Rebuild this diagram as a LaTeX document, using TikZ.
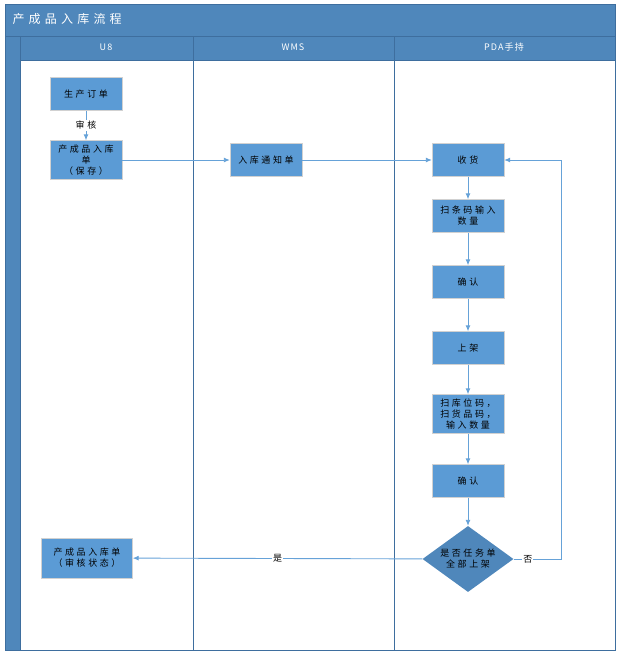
\documentclass[tikz,border=0pt]{standalone}
\usepackage{fontspec}
\setmainfont{Noto Sans CJK SC}[LetterSpace=28]
\usetikzlibrary{arrows.meta,shapes.geometric}
\definecolor{poolblue}{HTML}{4F87BB}
\definecolor{edgeblue}{HTML}{3E6E9E}
\definecolor{boxblue}{HTML}{5B9BD5}
\definecolor{linkblue}{HTML}{66A2D8}
\newcommand{\lanefont}{\fontsize{9}{11}\selectfont} % Box text.

\begin{document}
\begin{tikzpicture}[x=1pt,y=-1pt,
  box/.style={draw=black!18, fill=boxblue, minimum width=72pt, minimum height=33pt,
    inner sep=2pt, align=center, font=\lanefont},
  decision/.style={diamond, fill=poolblue, minimum width=91pt, minimum height=66pt,
    aspect=1.38, inner sep=0pt, align=center, font=\lanefont},
  link/.style={draw=linkblue, line width=0.9pt, -{Latex[length=6pt,width=5pt]}},
  tag/.style={fill=white, inner sep=1pt, font=\lanefont},
  head/.style={text=white, font=\lanefont\addfontfeatures{LetterSpace=12}}]
\useasboundingbox (0,0) rectangle (622,656);
\fill[poolblue] (5,4) rectangle (615,60);
\fill[poolblue] (5,4) rectangle (20,650);
\draw[edgeblue, line width=0.8pt] (5,4) rectangle (615,650);
\draw[edgeblue, line width=0.8pt] (5,36) -- (615,36);
\draw[edgeblue, line width=0.8pt] (20,60) -- (615,60);
\foreach \x in {20,193,394}
  \draw[edgeblue, line width=1pt] (\x,36) -- (\x,650);
\node[anchor=west, text=white, font=\fontsize{12}{14}\selectfont\addfontfeatures{LetterSpace=35}] (title) at (9,19) {产成品入库流程};
\node[head] (u8) at (106,47) {U8};
\node[head] (wms) at (293,47) {WMS};
\node[head] (pda) at (504,47) {PDA手持};

\node[box] (order) at (86,94) {生产订单};
\node[box, minimum height=39pt, inner sep=1pt] (save) at (86,160) {产成品入库\\单\\（保存）};
\node[box] (notice) at (266,160) {入库通知单};
\node[box] (recv) at (468,160) {收货};
\node[box] (scan) at (468,216) {扫条码输入\\数量};
\node[box] (ok1) at (468,282) {确认};
\node[box] (shelf) at (468,348) {上架};
\node[box, minimum height=39pt, inner sep=1pt] (scanloc) at (468,414) {扫库位码，\\扫货品码，\\输入数量};
\node[box] (ok2) at (468,481) {确认};
\node[decision] (check) at (468,559) {是否任务单\\全部上架};
\node[box, minimum width=91pt, minimum height=40pt] (done) at (87,558) {产成品入库单\\（审核状态）};
\coordinate (back) at (561,559);

\draw[link] (order) -- node[tag] {审核} (save);
\draw[link] (save) -- (notice);
\draw[link] (notice) -- (recv);
\draw[link] (recv) -- (scan);
\draw[link] (scan) -- (ok1);
\draw[link] (ok1) -- (shelf);
\draw[link] (shelf) -- (scanloc);
\draw[link] (scanloc) -- (ok2);
\draw[link] (ok2) -- (check);
\draw[link] (check) -- node[tag] {是} (done);
\draw[link] (check.east) -- node[tag, pos=0.3] {否} (back) |- (recv.east);
\end{tikzpicture}
\end{document}
